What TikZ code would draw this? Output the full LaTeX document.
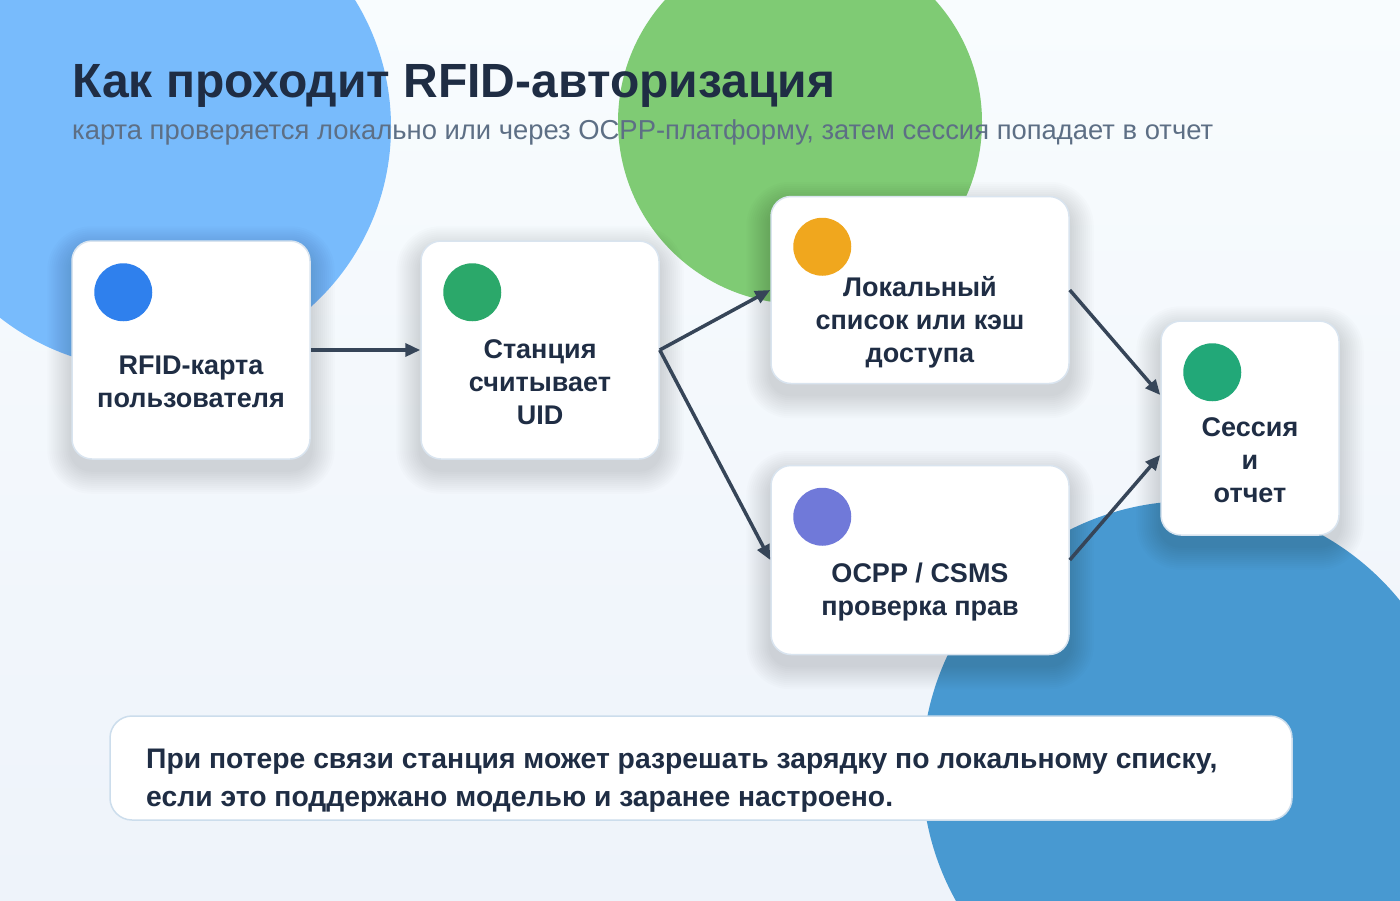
\documentclass[tikz,border=0pt]{standalone}
\usepackage{fontspec}
\setmainfont{Liberation Sans}
\usetikzlibrary{positioning, arrows.meta}

\definecolor{ink}{HTML}{1F2D44}
\definecolor{slate}{HTML}{5D6F85}
\definecolor{wire}{HTML}{364558}
\definecolor{rim}{HTML}{D9E4EF}
\definecolor{noterim}{HTML}{CCDDEC}
\definecolor{bgtop}{HTML}{F8FCFE}
\definecolor{bgbot}{HTML}{EEF3FA}
\definecolor{skyA}{HTML}{78BBFC}
\definecolor{leaf}{HTML}{7FCB74}
\definecolor{ocean}{HTML}{4899D1}
\definecolor{cardblue}{HTML}{2F80ED}
\definecolor{stationgreen}{HTML}{2BA86A}
\definecolor{amber}{HTML}{F0A71E}
\definecolor{violet}{HTML}{7079D9}
\definecolor{teal}{HTML}{22A878}

\pgfdeclarelayer{back}
\pgfdeclarelayer{shade}
\pgfsetlayers{back,shade,main}

\begin{document}
\begin{tikzpicture}[x=1pt, y=-1pt,
      >={Triangle[length=15pt, width=13pt]},
      card/.style={draw=rim, line width=1.5pt, fill=white, rounded corners=20pt},
      dot/.style={circle, minimum size=58pt, inner sep=0pt},
      lbl/.style={font=\bfseries\fontsize{27}{33}\selectfont, text=ink, align=center, inner sep=0pt},
      flow/.style={->, draw=wire, line width=3.5pt}]
      % page and background
      \useasboundingbox (0,0) rectangle (1400,900);
      \clip (0,0) rectangle (1400,900);
      \begin{pgfonlayer}{back}
      \fill[top color=bgtop, bottom color=bgbot] (0,0) rectangle (1400,900);
      \fill[skyA] (149,127) circle[radius=242pt];
      \fill[leaf] (800,122) circle[radius=182pt];
      \fill[ocean] (1191,770) circle[radius=269pt];
      \end{pgfonlayer}
      % title
      \node[anchor=base west, inner sep=0pt, text=ink,
        font=\bfseries\fontsize{48}{48}\selectfont] (title) at (72,97)
        {Как проходит RFID-авторизация};
      \node[anchor=base west, inner sep=0pt, text=slate,
        font=\fontsize{27.4}{28}\selectfont] (subtitle) at (72,139)
        {карта проверяется локально или через OCPP-платформу, затем сессия попадает в отчет};
      % cards
      \node[card, minimum width=238pt, minimum height=218pt] (rfid) at (191,350) {};
      \node[card, minimum width=238pt, minimum height=218pt] (uid) at (540,350) {};
      \node[card, minimum width=298pt, minimum height=187pt] (cache) at (920,290) {};
      \node[card, minimum width=298pt, minimum height=189pt] (csms) at (920,560) {};
      \node[card, minimum width=178pt, minimum height=214pt] (report) at (1250,428) {};
      % soft shadows
      \begin{pgfonlayer}{shade}
      \foreach \n in {rfid,uid,cache,csms,report}
        \foreach \k in {1,...,12}
          \fill[black, opacity=0.012, rounded corners=20pt+2*\k pt]
            ([shift={(-2*\k,-2*\k+10)}]\n.north west) rectangle
            ([shift={(2*\k,2*\k+10)}]\n.south east);
      \end{pgfonlayer}
      % dots
      \node[dot, fill=cardblue] (rfid-dot) at ([shift={(52,52)}]rfid.north west) {};
      \node[dot, fill=stationgreen] (uid-dot) at ([shift={(52,52)}]uid.north west) {};
      \node[dot, fill=amber] (cache-dot) at ([shift={(52,51)}]cache.north west) {};
      \node[dot, fill=violet] (csms-dot) at ([shift={(52,52)}]csms.north west) {};
      \node[dot, fill=teal] (report-dot) at ([shift={(52,52)}]report.north west) {};
      % labels
      \node[lbl] (rfid-txt) at (191,382) {RFID-карта\\пользователя};
      \node[lbl] (uid-txt) at (540,382) {Станция\\считывает\\UID};
      \node[lbl] (cache-txt) at (920,322) {Локальный\\список или кэш\\доступа};
      \node[lbl] (csms-txt) at (920,592) {OCPP / CSMS\\проверка прав};
      \node[lbl] (report-txt) at (1250,460) {Сессия\\и\\отчет};
      % arrows
      \draw[flow] (rfid.east) -- (uid.west);
      \draw[flow] (uid.east) -- (cache.west);
      \draw[flow] (uid.east) -- (csms.west);
      \draw[flow] (cache.east) -- ([yshift=33pt]report.west);
      \draw[flow] (csms.east) -- ([yshift=-27pt]report.west);
      % note
      \node[card, draw=noterim, minimum width=1182pt, minimum height=104pt,
        rounded corners=22pt] (note) at (701,768) {};
      \node[anchor=west, inner sep=0pt, text=ink, align=left,
        font=\bfseries\fontsize{28.3}{38}\selectfont] (note-txt) at (146,781)
        {При потере связи станция может разрешать зарядку по локальному списку,\\
         если это поддержано моделью и заранее настроено.};
  \end{tikzpicture}
\end{document}
